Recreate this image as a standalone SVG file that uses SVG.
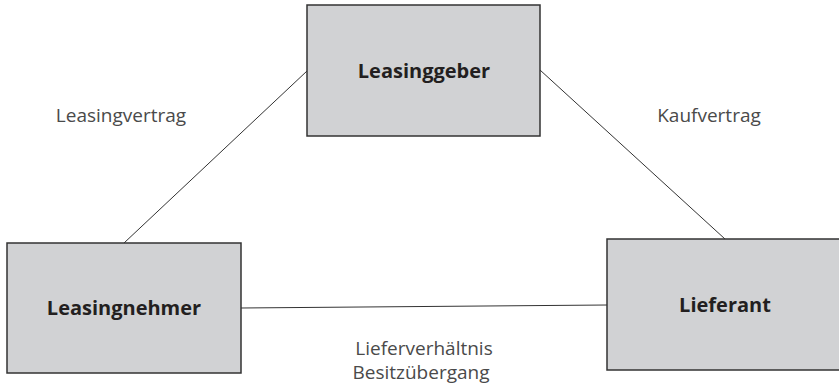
<svg xmlns="http://www.w3.org/2000/svg" width="839" height="388" viewBox="0 0 839 388">
<style>
.box{fill:#d1d2d4;stroke:#333;stroke-width:1.5}
.t{font-family:"Open Sans","Noto Sans",sans-serif;font-weight:bold;font-size:20px;fill:#231f20;text-anchor:middle}
.l{font-family:"Open Sans","Noto Sans",sans-serif;font-size:19px;fill:#4a4a4a;text-anchor:middle}
.c{stroke:#333;stroke-width:1;fill:none}
</style>
<rect width="839" height="388" fill="#fff"/>
<g id="connectors">
<line class="c" x1="307" y1="71" x2="124" y2="243"/>
<line class="c" x1="540" y1="70" x2="725" y2="239"/>
<line class="c" x1="241" y1="308" x2="607" y2="305"/>
</g>
<g id="leasinggeber">
<rect class="box" x="307" y="5" width="233" height="131"/>
<text class="t" x="424" y="78">Leasinggeber</text>
</g>
<g id="leasingnehmer">
<rect class="box" x="7" y="243" width="234" height="130"/>
<text class="t" x="124" y="315">Leasingnehmer</text>
</g>
<g id="lieferant">
<rect class="box" x="607" y="239" width="236" height="131"/>
<text class="t" x="725" y="312">Lieferant</text>
</g>
<g id="labels">
<text class="l" x="121" y="122">Leasingvertrag</text>
<text class="l" x="709" y="122">Kaufvertrag</text>
<text class="l" x="424" y="355">Lieferverhältnis</text>
<text class="l" x="421" y="379">Besitzübergang</text>
</g>
</svg>
